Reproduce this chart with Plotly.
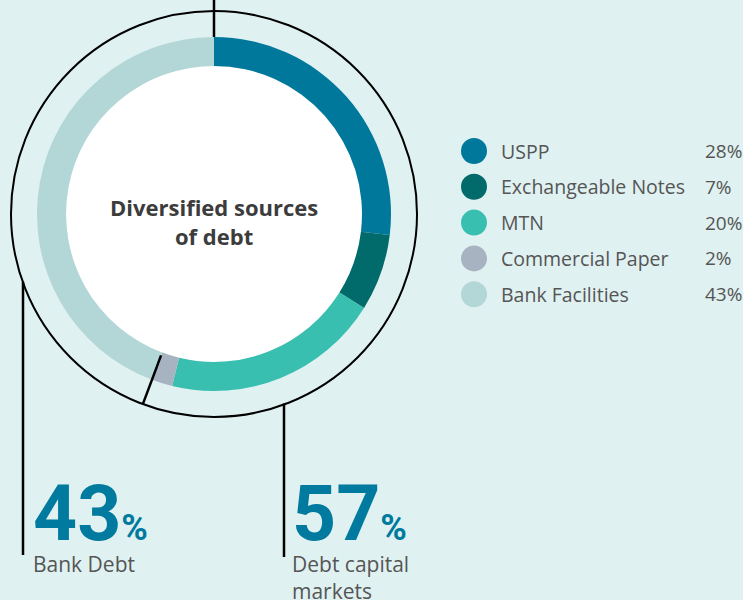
import math
import plotly.graph_objects as go

# 数据
labels = ["USPP", "Exchangeable Notes", "MTN", "Commercial Paper", "Bank Facilities"]
pct_labels = [28, 7, 20, 2, 43]               # 图例中标注的百分比
slice_values = [26.9, 7.0, 19.9, 1.9, 44.3]   # 环形图中实际绘制的份额
colors = ["#00789c", "#006b6a", "#38bfb0", "#a8b3c1", "#b3d6d7"]
summary_values = ["43", "57"]
summary_labels = ["Bank Debt", "Debt capital<br>markets"]
center_title = "Diversified sources<br>of debt"

W, H = 743, 600
BG = "#e0f1f1"
FONT = "Open Sans"
BIG_FONT = "Roboto"
TEXT = "#555555"

# 环形图几何（像素）
cx, cy = 214, 214
r_out, r_in, r_ring = 177, 148, 203

fig = go.Figure()
fig.add_trace(go.Pie(
    labels=labels,
    values=slice_values,
    marker=dict(colors=colors, line=dict(width=0)),
    hole=r_in / r_out,
    sort=False,
    direction="clockwise",
    rotation=0,
    textinfo="none",
    hoverinfo="label",
    showlegend=False,
    domain=dict(x=[(cx - r_out) / W, (cx + r_out) / W],
                y=[1 - (cy + r_out) / H, 1 - (cy - r_out) / H]),
))

shapes = [
    # 白色圆心
    dict(type="circle", xref="x", yref="y", x0=cx - r_in, x1=cx + r_in,
         y0=cy - r_in, y1=cy + r_in, fillcolor="white", line=dict(width=0), layer="below"),
    # 外圈
    dict(type="circle", xref="x", yref="y", x0=cx - r_ring, x1=cx + r_ring,
         y0=cy - r_ring, y1=cy + r_ring, line=dict(color="black", width=2)),
    # 顶部分隔线
    dict(type="line", xref="x", yref="y", x0=cx, x1=cx, y0=0, y1=cy - r_out,
         line=dict(color="black", width=2.5)),
]

# 银行债务 / 资本市场 分隔线
frac = sum(slice_values[:4]) / sum(slice_values)
ang = 2 * math.pi * frac
sx, sy = math.sin(ang), -math.cos(ang)
shapes.append(dict(type="line", xref="x", yref="y",
                   x0=cx + sx * (r_in + 3), y0=cy + sy * (r_in + 3),
                   x1=cx + sx * r_ring, y1=cy + sy * r_ring,
                   line=dict(color="black", width=2.5)))

# 引导竖线
for lx, ybot in [(23, 555), (284, 557)]:
    ytop = cy + math.sqrt(r_ring ** 2 - (lx - cx) ** 2)
    shapes.append(dict(type="line", xref="x", yref="y", x0=lx, x1=lx, y0=ytop - 1, y1=ybot,
                       line=dict(color="black", width=2.5)))

annotations = [
    dict(x=cx, y=221, xref="x", yref="y", text="<b>" + center_title + "</b>", showarrow=False,
         font=dict(family=FONT, size=22, color="#3c3c3c"), align="center"),
]

# 图例
ly0, ldy = 151, 35.8
for i, (lab, val, col) in enumerate(zip(labels, pct_labels, colors)):
    y = ly0 + i * ldy
    shapes.append(dict(type="circle", xref="x", yref="y", x0=461, x1=487, y0=y - 13, y1=y + 13,
                       fillcolor=col, line=dict(width=0)))
    annotations.append(dict(x=499, y=y, xref="x", yref="y", text=lab, showarrow=False,
                            xanchor="left", yanchor="middle", font=dict(family=FONT, size=19.5, color=TEXT)))
    annotations.append(dict(x=703, y=y, xref="x", yref="y", text=f"{val}%", showarrow=False,
                            xanchor="left", yanchor="middle", font=dict(family=FONT, size=19, color=TEXT)))

# 汇总数字
for x0, num, lab in zip([31, 290], summary_values, summary_labels):
    annotations.append(dict(x=x0, y=561, xref="x", yref="y", showarrow=False,
                            xanchor="left", yanchor="bottom",
                            text=f"<b>{num}</b><b><span style='font-size:36px'>%</span></b>",
                            font=dict(family=BIG_FONT, size=77, color="#007a9e")))
    annotations.append(dict(x=x0, y=548, xref="x", yref="y", showarrow=False,
                            xanchor="left", yanchor="top", align="left", text=lab,
                            font=dict(family=FONT, size=21, color=TEXT)))

fig.update_layout(
    width=W, height=H,
    margin=dict(l=0, r=0, t=0, b=0),
    paper_bgcolor=BG, plot_bgcolor="rgba(0,0,0,0)",
    xaxis=dict(range=[0, W], visible=False, fixedrange=True),
    yaxis=dict(range=[H, 0], visible=False, fixedrange=True),
    shapes=shapes,
    annotations=annotations,
    showlegend=False,
)

fig.write_html("out.html", config={"displayModeBar": False},
               post_script="document.body.style.margin='0';")
